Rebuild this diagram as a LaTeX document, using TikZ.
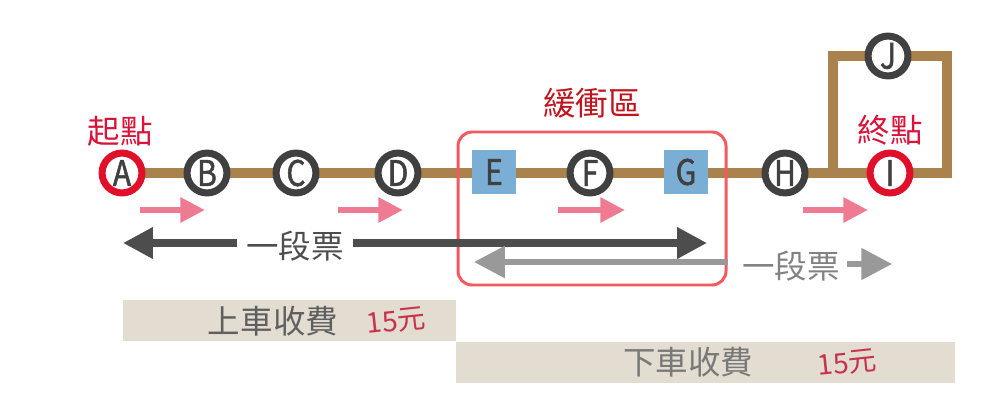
\documentclass[tikz,border=0pt]{standalone}
\usepackage{fontspec}
\setmainfont{Noto Sans CJK TC}
\newfontfamily\stationfont[FakeBold=1.5,FakeStretch=0.85]{Noto Sans CJK TC}
\usetikzlibrary{arrows.meta,backgrounds}

\definecolor{trackbrown}{HTML}{A9824E}
\definecolor{ringgray}{HTML}{404040}
\definecolor{termred}{HTML}{E0102A}
\definecolor{bufblue}{HTML}{7BAED4}
\definecolor{steppink}{HTML}{EF7B92}
\definecolor{ticketdark}{HTML}{4D4D4D}
\definecolor{ticketgray}{HTML}{999999}
\definecolor{boxred}{HTML}{F25A60}
\definecolor{labelred}{HTML}{D9143A}
\definecolor{bufred}{HTML}{C0141E}
\definecolor{barbeige}{HTML}{E3DCD1}
\definecolor{pricered}{HTML}{C8324C}

\begin{document}
\begin{tikzpicture}[
    x=0.02cm, y=-0.02cm,
    station/.style={circle, draw=ringgray, line width=4pt, fill=white,
        minimum size=22.7pt, inner sep=0pt, text=ringgray,
        font=\stationfont\fontsize{20}{20}\selectfont},
    terminal/.style={station, draw=termred},
    bufstop/.style={rectangle, fill=bufblue, minimum size=25.5pt,
        inner sep=0pt, text=ringgray, font=\stationfont\fontsize{20}{20}\selectfont},
    track/.style={draw=trackbrown, line width=5.7pt, line join=miter},
    steparrow/.style={draw=steppink, line width=3.4pt,
        -{Triangle[length=14pt, width=13.6pt]}},
    ticketdark/.style={draw=ticketdark, line width=4pt,
        -{Triangle[length=17pt, width=17pt]}},
    ticketgray/.style={draw=ticketgray, line width=3.4pt,
        -{Triangle[length=17.5pt, width=17.5pt]}},
    biglabel/.style={font=\fontsize{18.5}{20}\selectfont, inner sep=0pt},
    price/.style={font=\fontsize{16}{17}\selectfont, text=pricered,
        rotate=6, inner sep=0pt}
]
\useasboundingbox (0,0) rectangle (1000,406);

\fill[barbeige] (123,300) rectangle (456,341);
\fill[barbeige] (456,342) rectangle (955,383);

\node[terminal] (A) at (122,173) {A};
\node[station]  (B) at (207,173) {B};
\node[station]  (C) at (296,173) {C};
\node[station]  (D) at (398,173) {D};
\node[bufstop]  (E) at (494,172) {E};
\node[station]  (F) at (590,173) {F};
\node[bufstop]  (G) at (686,172) {G};
\node[station]  (H) at (785,173) {H};
\node[terminal] (I) at (890,173) {I};
\node[station]  (J) at (888,56) {J};

\coordinate (loopin)  at (833,173);
\coordinate (loopout) at (947,173);

\begin{scope}[on background layer]
\draw[track] (A) -- (I);
\draw[track] (loopin) |- (J) -| (loopout) -- (I);
\end{scope}

\node[biglabel, text=labelred] (start) at (120,131) {起點};
\node[biglabel, text=labelred] (end) at (890,130) {終點};
\node[biglabel, text=bufred] (buflabel) at (592,103) {緩衝區};

\draw[boxred, line width=1.7pt, rounded corners=8] (458,132) rectangle (726,285);

\draw[steparrow] (140,210) -- (205,210);
\draw[steparrow] (338,210) -- (403,210);
\draw[steparrow] (558,210) -- (625,210);
\draw[steparrow] (803,210) -- (868,210);

\node[biglabel, text=ticketdark, inner xsep=5pt] (ticketA) at (295,246) {一段票};
\coordinate (tdl) at (123,243);
\coordinate (tdr) at (707,243);
\draw[ticketdark] (ticketA.west |- tdl) -- (tdl);
\draw[ticketdark] (ticketA.east |- tdr) -- (tdr);

\coordinate (tgr) at (728,262);
\coordinate (tgl) at (474,262);
\draw[ticketgray] (tgr) -- (tgl);
\node[biglabel, text=ticketgray!85!black, inner xsep=4pt] (ticketB) at (791,266) {一段票};
\coordinate (tgend) at (892,264);
\draw[ticketgray] (ticketB.east |- tgend) -- (tgend);

\node[biglabel, text=ticketdark!90!white] (boardfee) at (273,321) {上車收費};
\node[price] (boardprice) at (396,321) {15元};
\node[biglabel, text=ticketdark!75!white] (alightfee) at (688,362) {下車收費};
\node[price] (alightprice) at (847,363) {15元};

\end{tikzpicture}
\end{document}
